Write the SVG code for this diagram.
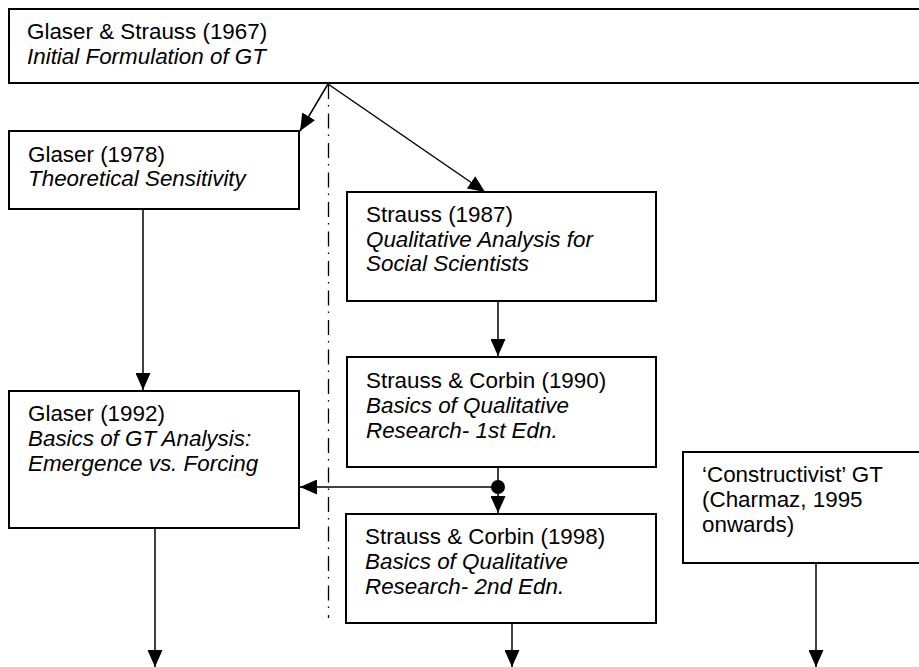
<svg xmlns="http://www.w3.org/2000/svg" width="919" height="667" viewBox="0 0 919 667">
  <style>
    .box { fill: #fff; stroke: #000; stroke-width: 2; }
    .t { font-family: "Liberation Sans", Arial, sans-serif; font-size: 22.4px; fill: #000; }
    .i { font-style: italic; }
    .conn { stroke: #000; stroke-width: 1.5; fill: none; }
    .divider { stroke: #000; stroke-width: 1.3; stroke-dasharray: 15 6 1.5 7; fill: none; }
  </style>
  <defs>
    <marker id="arrow" markerUnits="userSpaceOnUse" markerWidth="17" markerHeight="15" refX="17" refY="7.5" orient="auto">
      <path d="M0,0 L17,7.5 L0,15 Z" fill="#000"/>
    </marker>
  </defs>

  <rect width="919" height="667" fill="#fff"/>

  <!-- dash-dot divider between the two schools -->
  <line class="divider" x1="328.5" y1="84" x2="328.5" y2="618"/>

  <g id="node-glaser-strauss-1967">
    <rect class="box" x="9" y="9" width="920" height="74"/>
    <text class="t" x="27" y="39">Glaser &amp; Strauss (1967)</text>
    <text class="t i" x="27" y="64">Initial Formulation of GT</text>
  </g>

  <g id="node-glaser-1978">
    <rect class="box" x="9" y="131" width="290" height="78"/>
    <text class="t" x="28" y="162">Glaser (1978)</text>
    <text class="t i" x="28" y="186">Theoretical Sensitivity</text>
  </g>

  <g id="node-strauss-1987">
    <rect class="box" x="347" y="192" width="309" height="109"/>
    <text class="t" x="366" y="222">Strauss (1987)</text>
    <text class="t i" x="366" y="246.5">Qualitative Analysis for</text>
    <text class="t i" x="366" y="271">Social Scientists</text>
  </g>

  <g id="node-strauss-corbin-1990">
    <rect class="box" x="347" y="357" width="309" height="110"/>
    <text class="t" x="366" y="388">Strauss &amp; Corbin (1990)</text>
    <text class="t i" x="366" y="413">Basics of Qualitative</text>
    <text class="t i" x="366" y="437.5">Research- 1st Edn.</text>
  </g>

  <g id="node-glaser-1992">
    <rect class="box" x="9" y="391" width="290" height="137"/>
    <text class="t" x="28" y="421">Glaser (1992)</text>
    <text class="t i" x="28" y="446">Basics of GT Analysis:</text>
    <text class="t i" x="28" y="471">Emergence vs. Forcing</text>
  </g>

  <g id="node-strauss-corbin-1998">
    <rect class="box" x="346" y="514" width="310" height="109"/>
    <text class="t" x="365" y="544">Strauss &amp; Corbin (1998)</text>
    <text class="t i" x="365" y="569">Basics of Qualitative</text>
    <text class="t i" x="365" y="594">Research- 2nd Edn.</text>
  </g>

  <g id="node-constructivist">
    <rect class="box" x="683" y="452" width="246" height="111"/>
    <text class="t" x="702" y="482">‘Constructivist’ GT</text>
    <text class="t" x="702" y="507">(Charmaz, 1995</text>
    <text class="t" x="702" y="532">onwards)</text>
  </g>

  <g id="connectors">
    <line class="conn" x1="328" y1="84" x2="300" y2="131" marker-end="url(#arrow)"/>
    <line class="conn" x1="328" y1="84" x2="485" y2="192" marker-end="url(#arrow)"/>
    <line class="conn" x1="143" y1="209" x2="143" y2="390" marker-end="url(#arrow)"/>
    <line class="conn" x1="498" y1="301" x2="498" y2="356" marker-end="url(#arrow)"/>
    <line class="conn" x1="498" y1="467" x2="498" y2="513" marker-end="url(#arrow)"/>
    <line class="conn" x1="498" y1="487" x2="300" y2="487" stroke-width="2" marker-end="url(#arrow)"/>
    <circle cx="498" cy="487" r="7" fill="#000"/>
    <line class="conn" x1="155" y1="528" x2="155" y2="667" marker-end="url(#arrow)"/>
    <line class="conn" x1="512" y1="623" x2="512" y2="667" marker-end="url(#arrow)"/>
    <line class="conn" x1="816" y1="563" x2="816" y2="667" marker-end="url(#arrow)"/>
  </g>
</svg>
